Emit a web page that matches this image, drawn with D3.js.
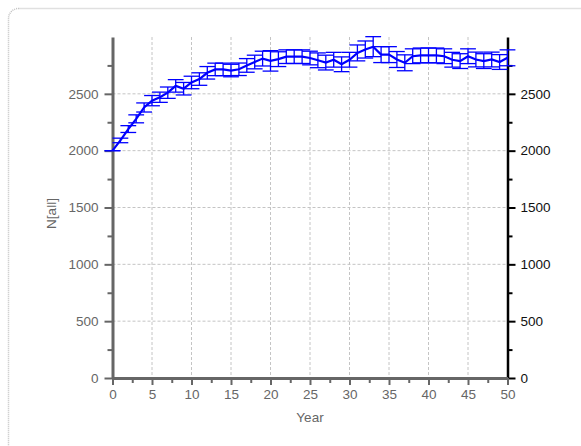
<!DOCTYPE html>
<html lang="en">
<head>
<meta charset="UTF-8">
<title>N[all] by Year</title>
<script src="https://d3js.org/d3.v7.min.js"></script>
<style>
    body { margin: 0; background: #fff; }
    svg { display: block; font-family: "Liberation Sans", Arial, sans-serif; }
    .grid line { stroke: #c4c4c4; stroke-width: 1; stroke-dasharray: 3,2; }
    .axis text { font-size: 13.5px; }
    .left .domain, .left line, .bottom .domain, .bottom line { stroke: #666; }
    .left text, .bottom text { fill: #666; }
    .right .domain, .right line { stroke: #000; }
    .right text { fill: #111; }
</style>
</head>
<body>
<script>
// chart values
const years = d3.range(0, 51);
const nAll = [2000, 2090, 2190, 2280, 2380, 2440, 2470, 2510, 2570, 2545,
              2600, 2630, 2685, 2715, 2715, 2705, 2716, 2750, 2780, 2810,
              2790, 2805, 2827, 2827, 2827, 2815, 2795, 2775, 2800, 2760,
              2800, 2860, 2890, 2915, 2845, 2845, 2802, 2773, 2831, 2838,
              2838, 2838, 2831, 2800, 2788, 2831, 2802, 2788, 2802, 2780,
              2817];
const nErr = [0, 20, 30, 35, 40, 45, 45, 50, 55, 55,
              55, 55, 55, 55, 55, 55, 55, 60, 60, 65,
              90, 65, 60, 60, 60, 60, 65, 65, 65, 65,
              65, 70, 75, 88, 70, 70, 70, 70, 65, 65,
              65, 65, 65, 65, 65, 65, 65, 65, 65, 65,
              70];
const xTicks = [0, 5, 10, 15, 20, 25, 30, 35, 40, 45, 50];
const xMinor = [2.5, 7.5, 12.5, 17.5, 22.5, 27.5, 32.5, 37.5, 42.5, 47.5];
const yTicks = [0, 500, 1000, 1500, 2000, 2500];
const yMinor = [250, 750, 1250, 1750, 2250, 2750];

const width = 581, height = 446;
const margin = { top: 37, right: 73.5, bottom: 68, left: 112.5 };
const plotW = width - margin.left - margin.right;
const plotH = height - margin.top - margin.bottom;

const svg = d3.select("body").append("svg")
    .attr("width", width)
    .attr("height", height);

// outer rounded frame
svg.append("rect")
    .attr("x", 8.5).attr("y", 8.5)
    .attr("width", 640).attr("height", 500)
    .attr("rx", 10).attr("ry", 10)
    .attr("fill", "none")
    .attr("stroke", "#c2c2c2")
    .attr("stroke-width", 1.5)
    .attr("stroke-dasharray", "1,1");

const g = svg.append("g")
    .attr("transform", `translate(${margin.left},${margin.top})`);

const x = d3.scaleLinear().domain([0, 50]).range([0, plotW]);
const y = d3.scaleLinear().domain([0, 3000]).range([plotH, 0]);
const fmt = d3.format("d");

// grid
g.append("g").classed("grid", true)
    .selectAll("line").data(xTicks.slice(1, -1)).enter()
    .append("line")
    .attr("x1", d => x(d)).attr("x2", d => x(d))
    .attr("y1", 0).attr("y2", plotH);

g.append("g").classed("grid", true)
    .selectAll("line").data(yTicks.slice(1)).enter()
    .append("line")
    .attr("x1", 0).attr("x2", plotW)
    .attr("y1", d => y(d)).attr("y2", d => y(d));

// minor ticks
g.append("g").classed("axis left", true)
    .call(d3.axisLeft(y).tickValues(yMinor).tickSize(5).tickFormat(""))
    .call(s => s.select(".domain").remove())
    .selectAll("line").attr("stroke-width", 2);
g.append("g").classed("axis right", true)
    .attr("transform", `translate(${plotW},0)`)
    .call(d3.axisRight(y).tickValues(yMinor).tickSize(5).tickFormat(""))
    .call(s => s.select(".domain").remove())
    .selectAll("line").attr("stroke-width", 2);
g.append("g").classed("axis bottom", true)
    .attr("transform", `translate(0,${plotH})`)
    .call(d3.axisBottom(x).tickValues(xMinor).tickSize(5).tickFormat(""))
    .call(s => s.select(".domain").remove())
    .selectAll("line").attr("stroke-width", 2);

// main axes
const left = g.append("g").classed("axis left", true)
    .call(d3.axisLeft(y).tickValues(yTicks).tickFormat(fmt)
        .tickSize(8).tickSizeOuter(0).tickPadding(6));
left.select(".domain").attr("stroke-width", 3);
left.selectAll("line").attr("stroke-width", 2);

const right = g.append("g").classed("axis right", true)
    .attr("transform", `translate(${plotW},0)`)
    .call(d3.axisRight(y).tickValues(yTicks).tickFormat(fmt)
        .tickSize(8).tickSizeOuter(0).tickPadding(5));
right.select(".domain").attr("stroke-width", 2.5);
right.selectAll("line").attr("stroke-width", 2);

const bottom = g.append("g").classed("axis bottom", true)
    .attr("transform", `translate(0,${plotH})`)
    .call(d3.axisBottom(x).tickValues(xTicks).tickFormat(fmt)
        .tickSize(7).tickSizeOuter(0).tickPadding(4));
bottom.select(".domain").attr("stroke-width", 3);
bottom.selectAll("line").attr("stroke-width", 2);

// axis titles
g.append("text")
    .attr("x", plotW / 2).attr("y", plotH + 44)
    .attr("text-anchor", "middle")
    .attr("font-size", 13.5).attr("fill", "#666")
    .text("Year");

g.append("text")
    .attr("transform", `translate(${-57},${plotH / 2 + 6}) rotate(-90)`)
    .attr("text-anchor", "middle")
    .attr("font-size", 13.5).attr("fill", "#666")
    .text("N[all]");

// series
const data = years.map((yr, i) => ({ year: yr, value: nAll[i], err: nErr[i] }));
const cap = x(1) - x(0);

const bars = g.append("g")
    .attr("stroke", "#0000ff")
    .attr("stroke-width", 1.3)
    .attr("fill", "none");

bars.selectAll(".stem").data(data).enter()
    .append("line").classed("stem", true)
    .attr("x1", d => x(d.year)).attr("x2", d => x(d.year))
    .attr("y1", d => y(d.value - d.err)).attr("y2", d => y(d.value + d.err));

bars.selectAll(".capTop").data(data).enter()
    .append("line").classed("capTop", true)
    .attr("x1", d => x(d.year) - cap).attr("x2", d => x(d.year) + cap)
    .attr("y1", d => y(d.value + d.err)).attr("y2", d => y(d.value + d.err));

bars.selectAll(".capBot").data(data).enter()
    .append("line").classed("capBot", true)
    .attr("x1", d => x(d.year) - cap).attr("x2", d => x(d.year) + cap)
    .attr("y1", d => y(d.value - d.err)).attr("y2", d => y(d.value - d.err));

const line = d3.line()
    .x(d => x(d.year))
    .y(d => y(d.value));

g.append("path")
    .datum(data)
    .attr("fill", "none")
    .attr("stroke", "#0000ff")
    .attr("stroke-width", 2.2)
    .attr("d", line);
</script>
</body>
</html>
